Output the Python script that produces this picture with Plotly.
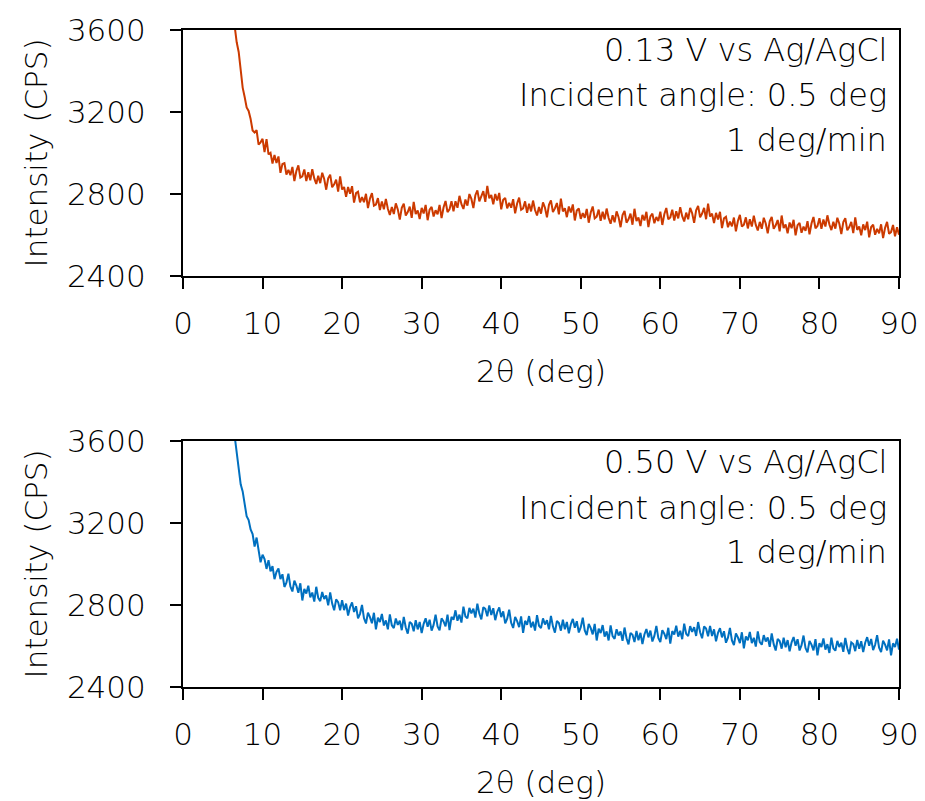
import plotly.graph_objects as go

# 2-theta grid: start 6.5 deg, 0.25 deg step
two_theta_start = 6.5
two_theta_step = 0.25

intensity_013 = [
    3617, 3540, 3493, 3398, 3319, 3273, 3222, 3205,
    3166, 3110, 3100, 3111, 3041, 3052, 3069, 3005,
    3068, 2993, 3001, 2949, 2990, 2951, 2983, 2903,
    2947, 2951, 2895, 2918, 2892, 2932, 2863, 2912,
    2940, 2880, 2886, 2920, 2863, 2906, 2867, 2921,
    2876, 2849, 2889, 2853, 2904, 2873, 2821, 2877,
    2894, 2833, 2847, 2870, 2812, 2886, 2822, 2834,
    2786, 2834, 2801, 2838, 2758, 2804, 2811, 2759,
    2785, 2760, 2801, 2731, 2778, 2804, 2743, 2748,
    2780, 2722, 2764, 2725, 2776, 2728, 2698, 2737,
    2702, 2754, 2725, 2675, 2733, 2753, 2695, 2712,
    2738, 2684, 2762, 2702, 2720, 2678, 2732, 2705,
    2747, 2672, 2724, 2737, 2690, 2721, 2701, 2747,
    2682, 2734, 2766, 2712, 2725, 2765, 2715, 2765,
    2733, 2791, 2750, 2727, 2773, 2743, 2800, 2776,
    2731, 2794, 2818, 2764, 2785, 2814, 2762, 2840,
    2779, 2795, 2750, 2800, 2768, 2805, 2725, 2772,
    2781, 2730, 2757, 2733, 2775, 2706, 2754, 2782,
    2723, 2730, 2764, 2708, 2752, 2715, 2768, 2722,
    2695, 2737, 2704, 2759, 2733, 2686, 2747, 2769,
    2712, 2730, 2756, 2701, 2777, 2715, 2731, 2687,
    2739, 2710, 2749, 2671, 2719, 2729, 2679, 2707,
    2684, 2727, 2660, 2710, 2739, 2681, 2689, 2724,
    2669, 2713, 2676, 2729, 2683, 2655, 2696, 2662,
    2715, 2687, 2638, 2697, 2717, 2660, 2677, 2704,
    2650, 2728, 2668, 2686, 2644, 2698, 2671, 2713,
    2639, 2691, 2704, 2657, 2688, 2668, 2714, 2649,
    2701, 2732, 2676, 2686, 2723, 2670, 2716, 2681,
    2736, 2692, 2666, 2709, 2677, 2732, 2706, 2659,
    2720, 2742, 2686, 2705, 2732, 2677, 2753, 2690,
    2704, 2658, 2708, 2676, 2713, 2634, 2681, 2689,
    2638, 2665, 2642, 2685, 2618, 2668, 2698, 2641,
    2650, 2686, 2632, 2677, 2641, 2694, 2649, 2622,
    2664, 2630, 2684, 2656, 2608, 2667, 2688, 2630,
    2647, 2673, 2618, 2695, 2634, 2651, 2608, 2661,
    2633, 2674, 2598, 2648, 2659, 2611, 2641, 2621,
    2667, 2603, 2656, 2688, 2633, 2644, 2682, 2630,
    2676, 2641, 2696, 2651, 2624, 2665, 2631, 2684,
    2655, 2605, 2663, 2682, 2623, 2639, 2664, 2609,
    2686, 2625, 2642, 2599, 2652, 2624, 2665, 2589,
    2639, 2650, 2601, 2630, 2608, 2652, 2585, 2635,
    2664, 2606, 2614, 2649, 2594, 2638, 2601,
]

intensity_050 = [
    3622, 3544, 3483, 3389, 3354, 3282, 3233, 3214,
    3169, 3146, 3085, 3129, 3060, 3008, 3045, 3024,
    2976, 3019, 2964, 2990, 2926, 2961, 2978, 2926,
    2950, 2888, 2909, 2953, 2890, 2866, 2919, 2895,
    2860, 2906, 2822, 2878, 2856, 2894, 2837, 2861,
    2817, 2889, 2835, 2819, 2863, 2829, 2846, 2798,
    2861, 2807, 2774, 2827, 2814, 2774, 2824, 2775,
    2807, 2749, 2790, 2813, 2766, 2794, 2735, 2757,
    2800, 2735, 2710, 2763, 2741, 2711, 2762, 2681,
    2738, 2717, 2756, 2700, 2725, 2681, 2754, 2701,
    2687, 2734, 2703, 2723, 2677, 2742, 2690, 2660,
    2717, 2708, 2672, 2726, 2681, 2717, 2663, 2708,
    2735, 2694, 2728, 2675, 2703, 2753, 2695, 2676,
    2735, 2720, 2696, 2753, 2678, 2742, 2728, 2774,
    2723, 2753, 2714, 2792, 2744, 2735, 2786, 2759,
    2782, 2739, 2807, 2758, 2730, 2789, 2781, 2745,
    2798, 2751, 2784, 2726, 2766, 2788, 2741, 2769,
    2710, 2733, 2777, 2713, 2688, 2742, 2721, 2692,
    2744, 2664, 2723, 2704, 2746, 2691, 2718, 2675,
    2750, 2699, 2687, 2735, 2705, 2726, 2681, 2747,
    2696, 2665, 2722, 2712, 2675, 2728, 2682, 2717,
    2662, 2706, 2732, 2689, 2721, 2666, 2692, 2738,
    2676, 2653, 2708, 2687, 2657, 2708, 2627, 2684,
    2663, 2702, 2646, 2671, 2627, 2700, 2648, 2635,
    2682, 2651, 2671, 2625, 2690, 2638, 2608, 2664,
    2655, 2619, 2673, 2628, 2664, 2610, 2656, 2683,
    2642, 2675, 2622, 2649, 2698, 2639, 2619, 2677,
    2660, 2634, 2689, 2612, 2673, 2656, 2699, 2646,
    2674, 2633, 2709, 2659, 2648, 2697, 2669, 2692,
    2649, 2717, 2667, 2638, 2695, 2685, 2647, 2698,
    2649, 2681, 2623, 2664, 2687, 2642, 2672, 2616,
    2641, 2688, 2627, 2605, 2661, 2642, 2614, 2667,
    2588, 2647, 2628, 2669, 2614, 2640, 2597, 2671,
    2619, 2606, 2653, 2622, 2642, 2596, 2661, 2609,
    2578, 2634, 2624, 2587, 2640, 2594, 2629, 2574,
    2618, 2644, 2601, 2633, 2578, 2604, 2651, 2590,
    2569, 2625, 2607, 2579, 2633, 2554, 2614, 2595,
    2637, 2582, 2609, 2566, 2641, 2589, 2577, 2625,
    2595, 2616, 2572, 2639, 2589, 2560, 2618, 2610,
    2575, 2630, 2586, 2623, 2570, 2616, 2643, 2601,
    2634, 2580, 2606, 2653, 2592, 2570, 2626, 2607,
    2579, 2632, 2554, 2613, 2595, 2636, 2582,
]

x_ticks = [0, 10, 20, 30, 40, 50, 60, 70, 80, 90]
y_ticks = [2400, 2800, 3200, 3600]
labels_top = ["0.13 V vs Ag/AgCl", "Incident angle: 0.5 deg", "1 deg/min"]
labels_bottom = ["0.50 V vs Ag/AgCl", "Incident angle: 0.5 deg", "1 deg/min"]

two_theta_013 = [round(two_theta_start + two_theta_step * i, 2) for i in range(len(intensity_013))]
two_theta_050 = [round(two_theta_start + two_theta_step * i, 2) for i in range(len(intensity_050))]

FONT = "DejaVu Sans"
TXT = "#000000"
W, H = 925, 801

fig = go.Figure()
fig.add_trace(go.Scatter(x=two_theta_013, y=intensity_013, mode="lines",
                         line=dict(color="#CC3A00", width=2), xaxis="x", yaxis="y",
                         showlegend=False))
fig.add_trace(go.Scatter(x=two_theta_050, y=intensity_050, mode="lines",
                         line=dict(color="#0070C0", width=2), xaxis="x2", yaxis="y2",
                         showlegend=False))

xd = [183 / W, 899 / W]
y1d = [(H - 276) / H, (H - 30) / H]
y2d = [(H - 687) / H, (H - 441) / H]


def tfont(size):
    return dict(family=FONT, size=size, color=TXT, weight=300)


common_x = dict(range=[0, 90], tickvals=x_ticks, showline=True, linecolor="black",
                linewidth=2, mirror=True, ticks="outside", ticklen=11, tickwidth=2,
                tickcolor="black", showgrid=False, zeroline=False, automargin=False,
                tickfont=tfont(31), ticklabelstandoff=8,
                title=dict(text="2θ (deg)", font=tfont(31), standoff=20))
common_y = dict(range=[2400, 3600], tickvals=y_ticks, showline=True, linecolor="black",
                linewidth=2, mirror=True, ticks="outside", ticklen=11, tickwidth=2,
                tickcolor="black", showgrid=False, zeroline=False, automargin=False,
                tickfont=tfont(31), ticklabelstandoff=18,
                title=dict(text="Intensity (CPS)", font=tfont(31), standoff=10))

annotations = []
for labels, centers in ((labels_top, (50, 95, 140)), (labels_bottom, (462, 508, 552))):
    for txt, cy in zip(labels, centers):
        annotations.append(dict(text=txt, x=889 / W, y=(H - cy) / H, xref="paper", yref="paper",
                                xanchor="right", yanchor="middle", align="right",
                                showarrow=False, font=tfont(32)))

fig.update_layout(
    width=W, height=H,
    margin=dict(l=0, r=0, t=0, b=0, autoexpand=False),
    paper_bgcolor="white", plot_bgcolor="white",
    xaxis=dict(domain=xd, anchor="y", **common_x),
    yaxis=dict(domain=y1d, anchor="x", **common_y),
    xaxis2=dict(domain=xd, anchor="y2", **common_x),
    yaxis2=dict(domain=y2d, anchor="x2", **common_y),
    annotations=annotations,
)

fig.write_html("out.html")
